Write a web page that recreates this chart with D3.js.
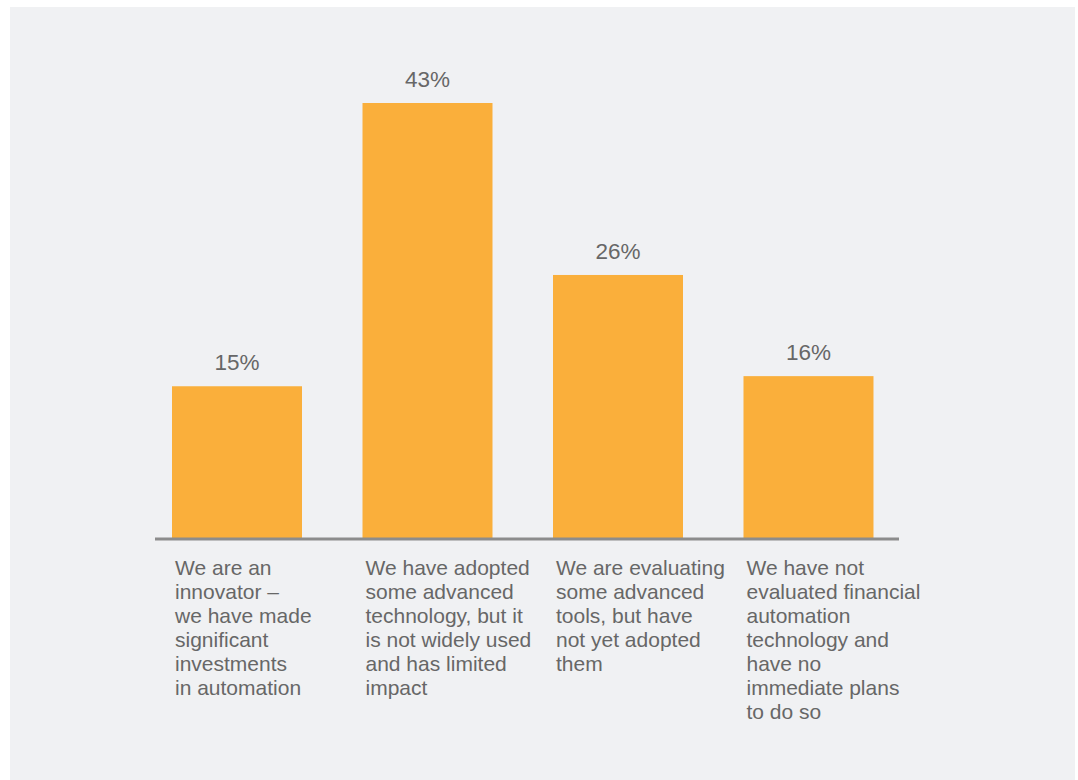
<!DOCTYPE html>
<html>
<head>
<meta charset="utf-8">
<script src="https://cdn.jsdelivr.net/npm/d3@7"></script>
<style>
  html, body { margin: 0; padding: 0; background: #ffffff; }
  svg { display: block; }
  text { font-family: "Liberation Sans", Arial, Helvetica, sans-serif; }
</style>
</head>
<body>
<svg id="chart" width="1078" height="780"></svg>
<script>
// Survey responses: stage of financial automation adoption
const categories = [
  "innovator",
  "adopted",
  "evaluating",
  "not evaluated"
];
const values = [15, 43, 26, 16];
const valueLabels = ["15%", "43%", "26%", "16%"];
const categoryLines = [
  ["We are an", "innovator \u2013", "we have made", "significant", "investments", "in automation"],
  ["We have adopted", "some advanced", "technology, but it", "is not widely used", "and has limited", "impact"],
  ["We are evaluating", "some advanced", "tools, but have", "not yet adopted", "them"],
  ["We have not", "evaluated financial", "automation", "technology and", "have no", "immediate plans", "to do so"]
];

const W = 1078, H = 780;
const svg = d3.select("#chart");

// background panel
svg.append("rect")
  .attr("x", 10).attr("y", 7)
  .attr("width", 1065).attr("height", H - 7)
  .attr("fill", "#f0f1f3");

const baseY = 538;
const x = d3.scaleBand()
  .domain(categories)
  .range([155, 899])
  .paddingInner(0.3176)
  .paddingOuter(0.1116)
  .align(0.4);

const y = d3.scaleLinear()
  .domain([0, 43])
  .range([baseY, 103]);

const data = categories.map((c, i) => ({
  cat: c, value: values[i], label: valueLabels[i], lines: categoryLines[i]
}));

// bars
svg.append("g").selectAll("rect")
  .data(data)
  .join("rect")
  .attr("x", d => x(d.cat))
  .attr("y", d => y(d.value))
  .attr("width", x.bandwidth())
  .attr("height", d => baseY - y(d.value))
  .attr("fill", "#faaf3b");

// baseline
svg.append("line")
  .attr("x1", x.range()[0]).attr("x2", x.range()[1])
  .attr("y1", baseY + 1).attr("y2", baseY + 1)
  .attr("stroke", "#8c8c8c")
  .attr("stroke-width", 3);

// value labels above bars
svg.append("g").selectAll("text")
  .data(data)
  .join("text")
  .attr("x", d => x(d.cat) + x.bandwidth() / 2)
  .attr("y", d => y(d.value) - 16)
  .attr("text-anchor", "middle")
  .attr("font-size", 22.5)
  .attr("fill", "#676767")
  .text(d => d.label);

// category labels below the axis
const catG = svg.append("g").selectAll("text")
  .data(data)
  .join("text")
  .attr("x", d => x(d.cat) + 3)
  .attr("y", baseY + 37)
  .attr("font-size", 21)
  .attr("fill", "#676767");

catG.selectAll("tspan")
  .data(d => d.lines.map(l => ({ text: l, x: x(d.cat) + 3 })))
  .join("tspan")
  .attr("x", t => t.x)
  .attr("dy", (t, i) => i === 0 ? 0 : 24)
  .text(t => t.text);
</script>
</body>
</html>
